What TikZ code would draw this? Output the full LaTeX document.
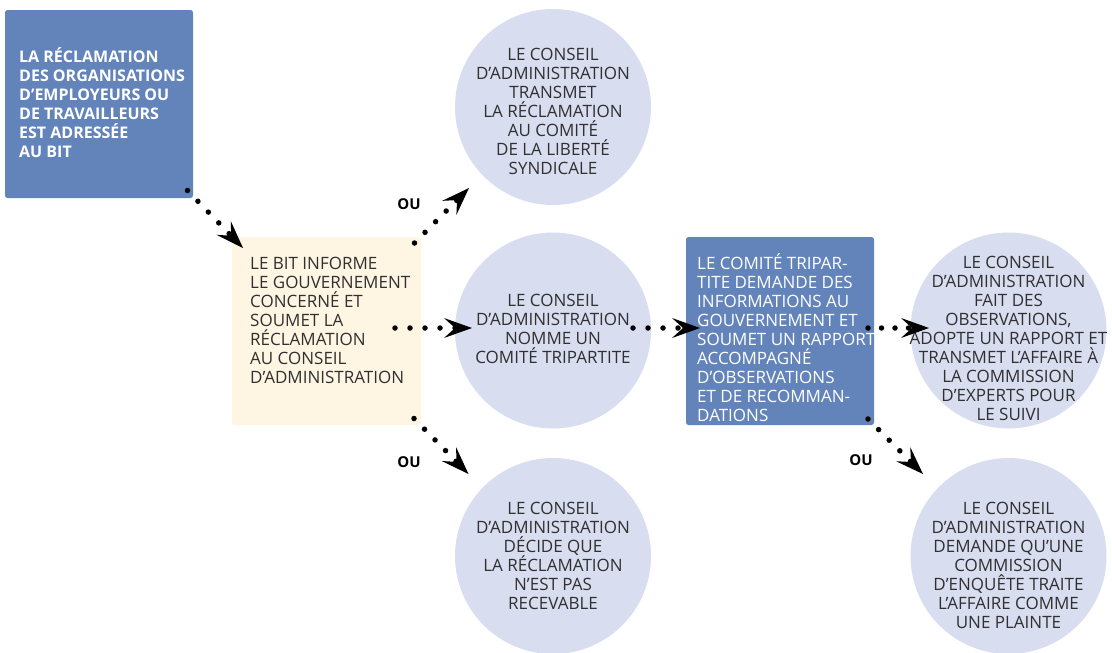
\documentclass[tikz,border=0pt]{standalone}
\usepackage{fontspec}
\setmainfont{Open Sans}
\usetikzlibrary{arrows.meta}
\definecolor{bblue}{HTML}{6384BA}
\definecolor{cream}{HTML}{FFF5E3}
\definecolor{lav}{HTML}{D9DDF0}
\definecolor{tgray}{HTML}{303030}
\begin{document}
\begin{tikzpicture}[x=1pt,y=-1pt,
  sqbox/.style={rounded corners=2.5pt, minimum width=188pt, minimum height=188pt, inner sep=0pt},
  circ/.style={circle, fill=lav, minimum size=196pt, inner sep=0pt},
  txt/.style={inner sep=0pt, text=tgray, font=\fontsize{17}{19}\selectfont},
  ctext/.style={txt, align=center},
  ltext/.style={txt, align=left, anchor=west},
  oulab/.style={inner sep=0pt, font=\fontsize{15}{16}\selectfont\bfseries, text=black},
  flow/.style={line width=5.5pt, line cap=round, dash pattern=on 0pt off 15pt,
    -{Stealth[length=28pt,width=20pt,inset=11pt,line width=0pt]}}
]
\useasboundingbox (0,0) rectangle (1112,653);
% boxes
\node[sqbox, fill=bblue] (b1) at (99,104) {};
\node[sqbox, fill=cream, minimum width=189pt] (b2) at (326.5,331) {};
\node[sqbox, fill=bblue] (b3) at (780,331) {};
% circles
\node[circ] (c1) at (553,107) {};
\node[circ] (c2) at (553,330.5) {};
\node[circ] (c3) at (553,556) {};
\node[circ] (c4) at (1008.5,330.5) {};
\node[circ] (c5) at (1008.5,556) {};
% texts
\node[ltext, text=white, font=\fontsize{16}{19}\selectfont\bfseries] (t1) at (19,102.5)
 {LA RÉCLAMATION\\DES ORGANISATIONS\\D’EMPLOYEURS OU\\DE TRAVAILLEURS\\EST ADRESSÉE\\AU BIT};
\node[ltext] (t2) at (250,320)
 {LE BIT INFORME\\LE GOUVERNEMENT\\CONCERNÉ ET\\SOUMET LA\\RÉCLAMATION\\AU CONSEIL\\D’ADMINISTRATION};
\node[ltext, text=white] (t3) at (697,338)
 {LE COMITÉ TRIPAR-\\TITE DEMANDE DES\\INFORMATIONS AU\\GOUVERNEMENT ET\\SOUMET UN RAPPORT\\ACCOMPAGNÉ\\D’OBSERVATIONS\\ET DE RECOMMAN-\\DATIONS};
\node[ctext] (tc1) at (553,111.5)
 {LE CONSEIL\\D’ADMINISTRATION\\TRANSMET\\LA RÉCLAMATION\\AU COMITÉ\\DE LA LIBERTÉ\\SYNDICALE};
\node[ctext] (tc2) at (553,328.5)
 {LE CONSEIL\\D’ADMINISTRATION\\NOMME UN\\COMITÉ TRIPARTITE};
\node[ctext] (tc3) at (553,555.5)
 {LE CONSEIL\\D’ADMINISTRATION\\DÉCIDE QUE\\LA RÉCLAMATION\\N’EST PAS\\RECEVABLE};
\node[ctext] (tc4) at (1008.5,338)
 {LE CONSEIL\\D’ADMINISTRATION\\FAIT DES\\OBSERVATIONS,\\ADOPTE UN RAPPORT ET\\TRANSMET L’AFFAIRE À\\LA COMMISSION\\D’EXPERTS POUR\\LE SUIVI};
\node[ctext] (tc5) at (1008.5,565)
 {LE CONSEIL\\D’ADMINISTRATION\\DEMANDE QU’UNE\\COMMISSION\\D’ENQUÊTE TRAITE\\L’AFFAIRE COMME\\UNE PLAINTE};
% OU labels
\node[oulab] (o1) at (409,204) {OU};
\node[oulab] (o2) at (409,462) {OU};
\node[oulab] (o3) at (861,460) {OU};
% connector end points
\coordinate (s1) at (187.5,190.5);
\coordinate (e1) at (243,248);
\coordinate (s2) at (414.5,243);
\coordinate (e2) at (469,188);
\coordinate (s3) at (395,328);
\coordinate (e3) at (472,328);
\coordinate (s4) at (414,418.5);
\coordinate (e4) at (468.5,474);
\coordinate (s5) at (633,328);
\coordinate (e5) at (700,328);
\coordinate (s6) at (868,328);
\coordinate (e6) at (929,328);
\coordinate (s7) at (868,419);
\coordinate (e7) at (923,474);
\draw[flow] (s1) -- (e1);
\draw[flow] (s2) -- (e2);
\draw[flow] (s3) -- (e3);
\draw[flow] (s4) -- (e4);
\draw[flow] (s5) -- (e5);
\draw[flow, dash pattern=on 0pt off 13.5pt] (s6) -- (e6);
\draw[flow] (s7) -- (e7);
\end{tikzpicture}
\end{document}
